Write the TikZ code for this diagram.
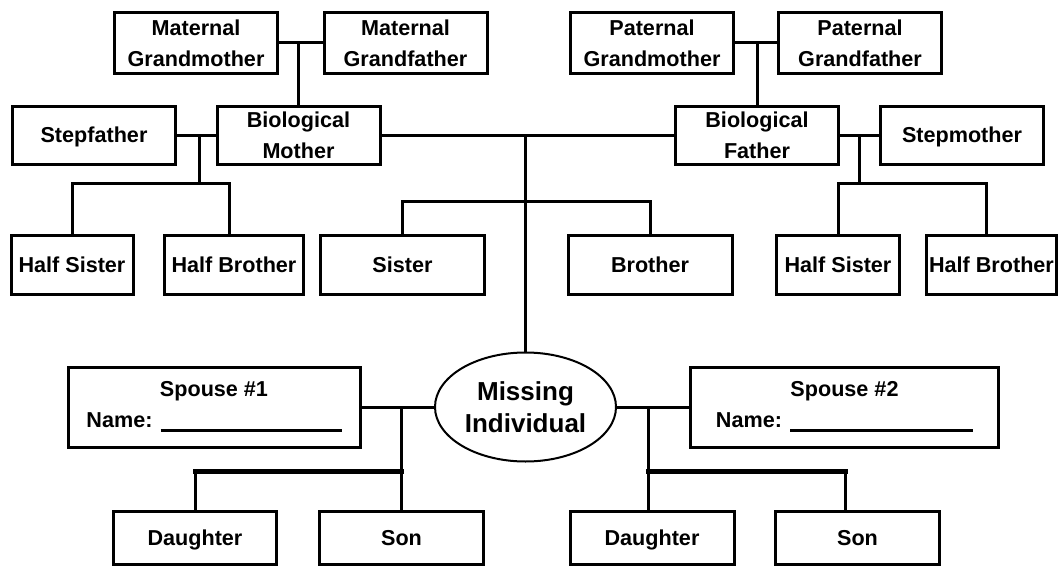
\documentclass[tikz,border=0pt]{standalone}
\usepackage{fontspec}
\setmainfont{Liberation Sans}
\usetikzlibrary{shapes.geometric}

\begin{document}
\begin{tikzpicture}[
    x=0.5pt, y=-0.5pt,
    person/.style={draw, line width=1.5pt, inner sep=0pt, align=center, minimum width=81.5pt, font=\bfseries\fontsize{10.8}{15.5}\selectfont},
    oneline/.style={text height=7.8pt, text depth=0.5pt},
    elder/.style={person, minimum height=30.5pt},
    parent/.style={person, minimum height=29pt},
    sibling/.style={person, oneline, minimum height=29.5pt},
    spouse/.style={person, minimum height=40pt},
    child/.style={person, oneline, minimum height=26.5pt},
    self/.style={draw, ellipse, line width=1pt, inner sep=0pt, minimum width=90.5pt, minimum height=54.5pt, align=center, font=\bfseries\fontsize{13}{16}\selectfont},
    link/.style={line width=1.5pt},
    kidlink/.style={line width=2.5pt, line cap=rect},
  ]
  \useasboundingbox (0,0) rectangle (1060,567);

  \node[elder] (mgm) at (196,43) {Maternal\\Grandmother};
  \node[elder] (mgf) at (405.5,43) {Maternal\\Grandfather};
  \node[elder] (pgm) at (652,43) {Paternal\\Grandmother};
  \node[elder] (pgf) at (860,43) {Paternal\\Grandfather};

  \node[parent, oneline] (stepfa) at (94,135.5) {Stepfather};
  \node[parent] (biomom) at (298.5,135.5) {Biological\\Mother};
  \node[parent] (biofa) at (757,135.5) {Biological\\Father};
  \node[parent, oneline] (stepmo) at (962,135.5) {Stepmother};

  \node[sibling, minimum width=61pt] (lhsis) at (72,265) {Half Sister};
  \node[sibling, minimum width=69.5pt] (lhbro) at (234,265) {Half Brother};
  \node[sibling, minimum width=82pt] (sister) at (402.5,265) {Sister};
  \node[sibling, minimum width=82pt] (brother) at (650,265) {Brother};
  \node[sibling, minimum width=61.5pt] (rhsis) at (838,265) {Half Sister};
  \node[sibling, minimum width=65pt] (rhbro) at (991.5,265) {Half Brother};

  \node[self] (missing) at (525.5,407) {Missing\\Individual};

  \node[spouse, minimum width=146pt] (spouse1) at (214,407) {Spouse \#1\\Name: \rule[-2.25pt]{90.5pt}{1.5pt}};
  \node[spouse, minimum width=154pt] (spouse2) at (844.5,407) {Spouse \#2\\Name: \rule[-2.25pt]{91.5pt}{1.5pt}};

  \node[child] (ldau) at (195,538) {Daughter};
  \node[child, minimum width=82pt] (lson) at (401.5,538) {Son};
  \node[child, minimum width=82pt] (rdau) at (652,538) {Daughter};
  \node[child, minimum width=82pt] (rson) at (857.5,538) {Son};

  \coordinate (lhalf) at (199,183);
  \coordinate (rhalf) at (859,183);
  \coordinate (sibs) at (526,201);
  \coordinate (lkids) at (401,471);
  \coordinate (rkids) at (648,471);
  \coordinate (rsonj) at (845,471);

  \draw[link] (mgm) -- (mgf);
  \draw[link] (pgm) -- (pgf);
  \draw[link] (biomom.north) -- (biomom.north |- mgm.east);
  \draw[link] (biofa.north) -- (biofa.north |- pgm.east);

  \draw[link] (stepfa) -- (biomom);
  \draw[link] (biomom) -- (biofa);
  \draw[link] (biofa) -- (stepmo);

  \draw[link] (lhalf |- stepfa.east) -- (lhalf);
  \draw[link] (lhsis.north) |- (lhalf) -| ([xshift=-2.5pt]lhbro.north);
  \draw[link] (rhalf |- stepmo.west) -- (rhalf);
  \draw[link] (rhsis.north) |- (rhalf) -| ([xshift=-2.75pt]rhbro.north);

  \draw[link] (missing.north) -- (missing.north |- biomom.east);
  \draw[link] (sister.north) |- (sibs) -| (brother.north);

  \draw[link] (spouse1) -- (missing);
  \draw[link] (missing) -- (spouse2);

  \draw[link] (lkids |- spouse1.east) -- (lkids |- lson.north);
  \draw[link] (ldau.north) -- (ldau.north |- lkids);
  \draw[kidlink] (ldau.north |- lkids) -- (lkids);

  \draw[link] (rkids |- spouse2.west) -- (rkids |- rdau.north);
  \draw[kidlink] (rkids) -- (rsonj);
  \draw[link] (rsonj) -- (rsonj |- rson.north);
\end{tikzpicture}
\end{document}
